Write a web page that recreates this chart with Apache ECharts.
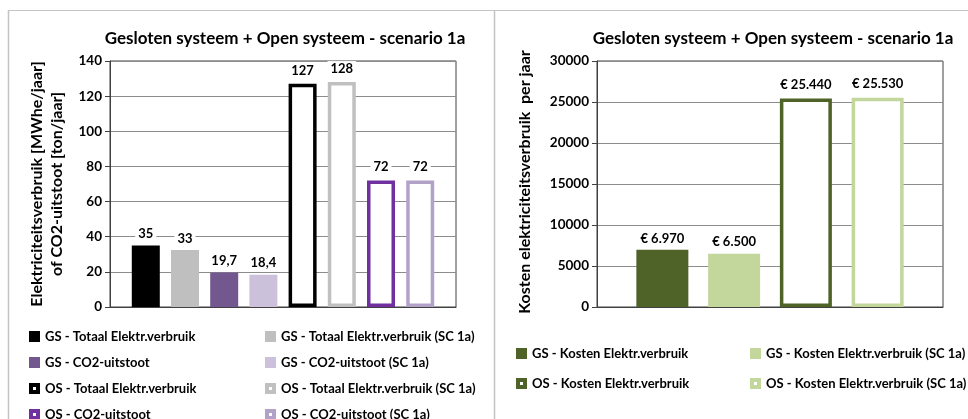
<!DOCTYPE html>
<html>
<head>
<meta charset="utf-8">
<script src="https://cdn.jsdelivr.net/npm/echarts@6/dist/echarts.min.js"></script>
<style>html,body{margin:0;padding:0;background:#fff}#c{width:968px;height:419px}</style>
</head>
<body>
<div id="c"></div>
<script>
// ---- data ----
const chartTitle = 'Gesloten systeem + Open systeem - scenario 1a';
const leftNames = ['GS - Totaal Elektr.verbruik','GS - Totaal Elektr.verbruik (SC 1a)','GS - CO2-uitstoot','GS - CO2-uitstoot (SC 1a)',
  'OS - Totaal Elektr.verbruik','OS - Totaal Elektr.verbruik (SC 1a)','OS - CO2-uitstoot','OS - CO2-uitstoot (SC 1a)'];
const leftValues = [35, 32.4, 19.7, 18.4, 127, 128, 72, 72];
const leftLabels = ['35','33','19,7','18,4','127','128','72','72'];
const leftColors = ['#000000','#bfbfbf','#72588f','#ccc1da','#000000','#c0c0c0','#7030a0','#b3a2c7'];
const leftOutlined = [false,false,false,false,true,true,true,true];
const leftYTicks = {min:0, max:140, interval:20};

const rightNames = ['GS - Kosten Elektr.verbruik','GS - Kosten Elektr.verbruik (SC 1a)','OS - Kosten Elektr.verbruik','OS - Kosten Elektr.verbruik (SC 1a)'];
const rightValues = [6970, 6500, 25440, 25530];
const rightLabels = ['€ 6.970','€ 6.500','€ 25.440','€ 25.530'];
const rightColors = ['#4f6228','#c3d69b','#4f6228','#c3d69b'];
const rightOutlined = [false,false,true,true];
const rightYTicks = {min:0, max:30000, interval:5000};

const leftYTitle = 'Elektriciteitsverbruik [MWhe/jaar]\nof CO2-uitstoot [ton/jaar]';
const rightYTitle = 'Kosten elektriciteitsverbruik  per jaar';

// ---- chart ----
const FONT = 'Lato';
const chart = echarts.init(document.getElementById('c'), null, {renderer:'canvas'});

function mkSeries(names, values, labels, colors, outlined, idx, barWidth, barGap) {
  return names.map((n, i) => ({
    name: n, type: 'bar', xAxisIndex: idx, yAxisIndex: idx,
    barWidth: barWidth, barGap: barGap,
    data: [values[i]],
    itemStyle: outlined[i]
      ? {color: '#ffffff', borderColor: colors[i], borderWidth: 3.5}
      : {color: colors[i]},
    label: {
      show: true, position: 'top', distance: outlined[i] ? 6 : 4,
      formatter: () => labels[i],
      fontFamily: FONT, fontWeight: 'bold', fontSize: 13, color: '#000',
      backgroundColor: '#fff', padding: [1, 3]
    },
    z: 3
  }));
}

const holeIcon = 'path://M0,0H11V11H0Z M4,4V7H7V4Z';
function legendData(names, colors, outlined, idxs) {
  return idxs.map(i => outlined[i]
    ? {name: names[i], icon: holeIcon, itemStyle: {color: colors[i], borderWidth: 0}}
    : {name: names[i], icon: 'rect'});
}
const legendBase = {
  orient: 'vertical', itemWidth: 11, itemHeight: 11, height: 120,
  textStyle: {fontFamily: FONT, fontWeight: 'bold', fontSize: 13, color: '#000'},
  selectedMode: false, padding: 0
};

const yAxisCommon = (t) => ({
  type: 'value', min: t.min, max: t.max, interval: t.interval,
  axisLine: {show: true, lineStyle: {color: '#404040', width: 1}},
  axisTick: {show: true, length: 5, lineStyle: {color: '#404040'}},
  axisLabel: {fontFamily: FONT, fontWeight: 'bold', fontSize: 13.5, color: '#000', margin: 8,
              formatter: v => String(v)},
  splitLine: {show: true, lineStyle: {color: '#8c8c8c', width: 1}}
});
const xAxisCommon = (gi) => ({
  type: 'category', gridIndex: gi, data: [''],
  axisLine: {show: true, lineStyle: {color: '#404040', width: 1}},
  axisTick: {show: false}, axisLabel: {show: false}
});

const option = {
  animation: false,
  backgroundColor: '#fff',
  title: [
    {text: chartTitle, left: 280, top: 25, textAlign: 'center',
     textStyle: {fontFamily: FONT, fontWeight: 'bold', fontSize: 17, color: '#000'}},
    {text: chartTitle, left: 768, top: 25, textAlign: 'center',
     textStyle: {fontFamily: FONT, fontWeight: 'bold', fontSize: 17, color: '#000'}}
  ],
  grid: [
    {left: 110, top: 61, width: 346, height: 246, show: true, borderColor: '#404040', borderWidth: 1, backgroundColor: 'transparent'},
    {left: 597, top: 61, width: 346, height: 246, show: true, borderColor: '#404040', borderWidth: 1, backgroundColor: 'transparent'}
  ],
  xAxis: [xAxisCommon(0), xAxisCommon(1)],
  yAxis: [Object.assign({gridIndex: 0}, yAxisCommon(leftYTicks)),
          Object.assign({gridIndex: 1}, yAxisCommon(rightYTicks))],
  legend: [
    Object.assign({left: 29, top: 330, itemGap: 13, data: legendData(leftNames, leftColors, leftOutlined, [0,2,4,6])}, legendBase),
    Object.assign({left: 265, top: 330, itemGap: 13, data: legendData(leftNames, leftColors, leftOutlined, [1,3,5,7])}, legendBase),
    Object.assign({left: 516, top: 347, itemGap: 17, data: legendData(rightNames, rightColors, rightOutlined, [0,2])}, legendBase),
    Object.assign({left: 750, top: 347, itemGap: 17, data: legendData(rightNames, rightColors, rightOutlined, [1,3])}, legendBase)
  ],
  series: [].concat(
    mkSeries(leftNames, leftValues, leftLabels, leftColors, leftOutlined, 0, 28, '40%'),
    mkSeries(rightNames, rightValues, rightLabels, rightColors, rightOutlined, 1, 52, '38%')
  ),
  graphic: [
    {type: 'line', shape: {x1: 8, y1: 10.5, x2: 968, y2: 10.5}, style: {stroke: '#c4c4c4', lineWidth: 1}, silent: true},
    {type: 'line', shape: {x1: 8.5, y1: 10, x2: 8.5, y2: 419}, style: {stroke: '#c4c4c4', lineWidth: 1.5}, silent: true},
    {type: 'line', shape: {x1: 494.5, y1: 10, x2: 494.5, y2: 419}, style: {stroke: '#c4c4c4', lineWidth: 1.5}, silent: true},
    {type: 'text', x: 47, y: 184, rotation: Math.PI / 2,
     style: {text: leftYTitle, fontFamily: FONT, fontWeight: 'bold', fontSize: 16, fill: '#000',
             textAlign: 'center', textVerticalAlign: 'middle', lineHeight: 20}},
    {type: 'text', x: 525, y: 182, rotation: Math.PI / 2,
     style: {text: rightYTitle, fontFamily: FONT, fontWeight: 'bold', fontSize: 16, fill: '#000',
             textAlign: 'center', textVerticalAlign: 'middle'}}
  ]
};
chart.setOption(option);
</script>
</body>
</html>
